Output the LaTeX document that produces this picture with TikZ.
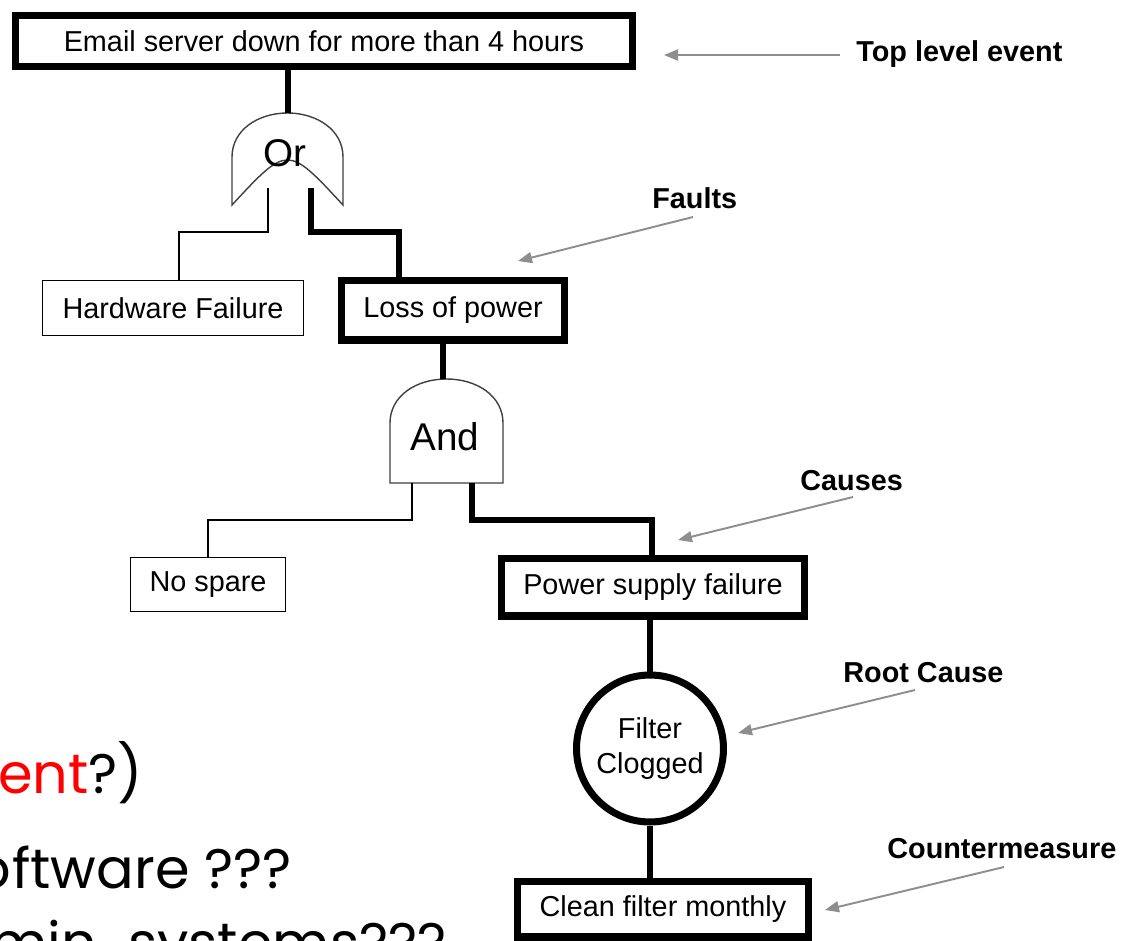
\documentclass[tikz,border=0pt]{standalone}
\usepackage{fontspec}
\setmainfont{Liberation Sans}
\newfontfamily\handfont{Poppins}
\usetikzlibrary{arrows.meta}
\definecolor{arrowgray}{HTML}{8E8E8E}
\definecolor{slidered}{HTML}{FF0000}
\begin{document}
\begin{tikzpicture}[x=0.02cm,y=-0.02cm,
  thickbox/.style={draw=black, line width=4pt, inner sep=0pt, align=center, font=\fontsize{16.4}{19.8}\selectfont},
  thinbox/.style={draw=black, line width=0.85pt, inner sep=0pt, font=\fontsize{16.4}{19.8}\selectfont},
  thickline/.style={line width=3.4pt},
  thinline/.style={line width=0.85pt},
  gateoutline/.style={draw=black!75, line width=0.8pt, fill=white},
  gatelabel/.style={font=\fontsize{22}{26}\selectfont, inner sep=0pt},
  tag/.style={font=\bfseries\fontsize{16.4}{19}\selectfont, inner sep=0pt, anchor=base west},
  pointer/.style={draw=arrowgray, line width=1.1pt, -{Triangle[length=0.28cm,width=0.22cm]}},
  slide/.style={font=\handfont\fontsize{31.7}{38}\selectfont, inner sep=0pt},
]
\useasboundingbox (0,0) rectangle (1134,941);
\clip (0,0) rectangle (1134,941);

% boxes
\node[thickbox, minimum width=12.34cm, minimum height=1.02cm] (top) at (324,41) {Email server down for more than 4 hours};
\node[thinbox, minimum width=5.22cm, minimum height=1.1cm] (hw) at (173,308) {Hardware Failure};
\node[thickbox, minimum width=4.48cm, minimum height=1.2cm] (lop) at (453,310) {Loss of power};
\node[thinbox, minimum width=3.1cm, minimum height=1.08cm] (ns) at (208,584.5) {No spare};
\node[thickbox, minimum width=6.08cm, minimum height=1.16cm] (ps) at (653,587) {Power supply failure};
\node[thickbox, circle, minimum size=2.94cm] (fc) at (650,748.5) {Filter\\Clogged};
\node[thickbox, minimum width=5.84cm, minimum height=1.12cm] (cf) at (663,909) {Clean filter monthly};

% gates
\draw[gateoutline] (232,205) -- (232,157) .. controls (232,130) and (258,113) .. (287.5,113) .. controls (317,113) and (343,130) .. (343,157) -- (343,205) .. controls (287.5,145) .. (232,205) -- cycle;
\draw[gateoutline] (390,483) -- (390,423) .. controls (390,396) and (416,379) .. (446.5,379) .. controls (477,379) and (503,396) .. (503,423) -- (503,483) -- cycle;
\node[gatelabel] (orlbl) at (285,153) {Or};
\node[gatelabel] (andlbl) at (445,437) {And};

% connectors
\coordinate (orIn) at (288,113);
\draw[thickline] (top.south -| orIn) -- (orIn);
\coordinate (orL) at (268,188);
\coordinate (orLk) at (268,232);
\coordinate (hwX) at (179,0);
\draw[thinline] (orL) -- (orLk) -| (hw.north -| hwX);
\coordinate (orR) at (311,188);
\coordinate (orRk) at (311,232);
\coordinate (lopX) at (399,0);
\draw[thickline] (orR) -- (orRk) -| (lop.north -| lopX);
\coordinate (andIn) at (443,379);
\draw[thickline] (lop.south -| andIn) -- (andIn);
\coordinate (andL) at (412,483);
\coordinate (andLk) at (412,520);
\coordinate (nsX) at (208,0);
\draw[thinline] (andL) -- (andLk) -| (ns.north -| nsX);
\coordinate (andR) at (472,483);
\coordinate (andRk) at (472,520);
\coordinate (psX) at (652,0);
\draw[thickline] (andR) -- (andRk) -| (ps.north -| psX);
\draw[thickline] (ps.south -| fc.north) -- (fc.north);
\draw[thickline] (fc.south) -- (cf.north -| fc.south);

% tags
\node[tag] (t1) at (856,61) {Top level event};
\node[tag] (t2) at (652,208) {Faults};
\node[tag] (t3) at (800,490) {Causes};
\node[tag] (t4) at (843,682) {Root Cause};
\node[tag] (t5) at (887,858) {Countermeasure};

% pointers
\coordinate (p1s) at (840,55);  \coordinate (p1e) at (664,55);
\coordinate (p2s) at (693,217); \coordinate (p2e) at (518,261);
\coordinate (p3s) at (853,497); \coordinate (p3e) at (678,540);
\coordinate (p4s) at (915,690); \coordinate (p4e) at (738,733);
\coordinate (p5s) at (1004,867); \coordinate (p5e) at (825,910);
\draw[pointer] (p1s) -- (p1e);
\draw[pointer] (p2s) -- (p2e);
\draw[pointer] (p3s) -- (p3e);
\draw[pointer] (p4s) -- (p4e);
\draw[pointer] (p5s) -- (p5e);

% slide text fragments
\node[slide, anchor=base west] (s1) at (-2,793) {\textcolor{slidered}{ent}?)};
\node[slide, anchor=base west] (s2) at (12,888) {ftware ???};
\node[slide, anchor=base east] (s2o) at (11,888) {o};
\node[slide, anchor=base east] (s3) at (447,962) {amin\hspace{0.3em} systems???};
\end{tikzpicture}
\end{document}
